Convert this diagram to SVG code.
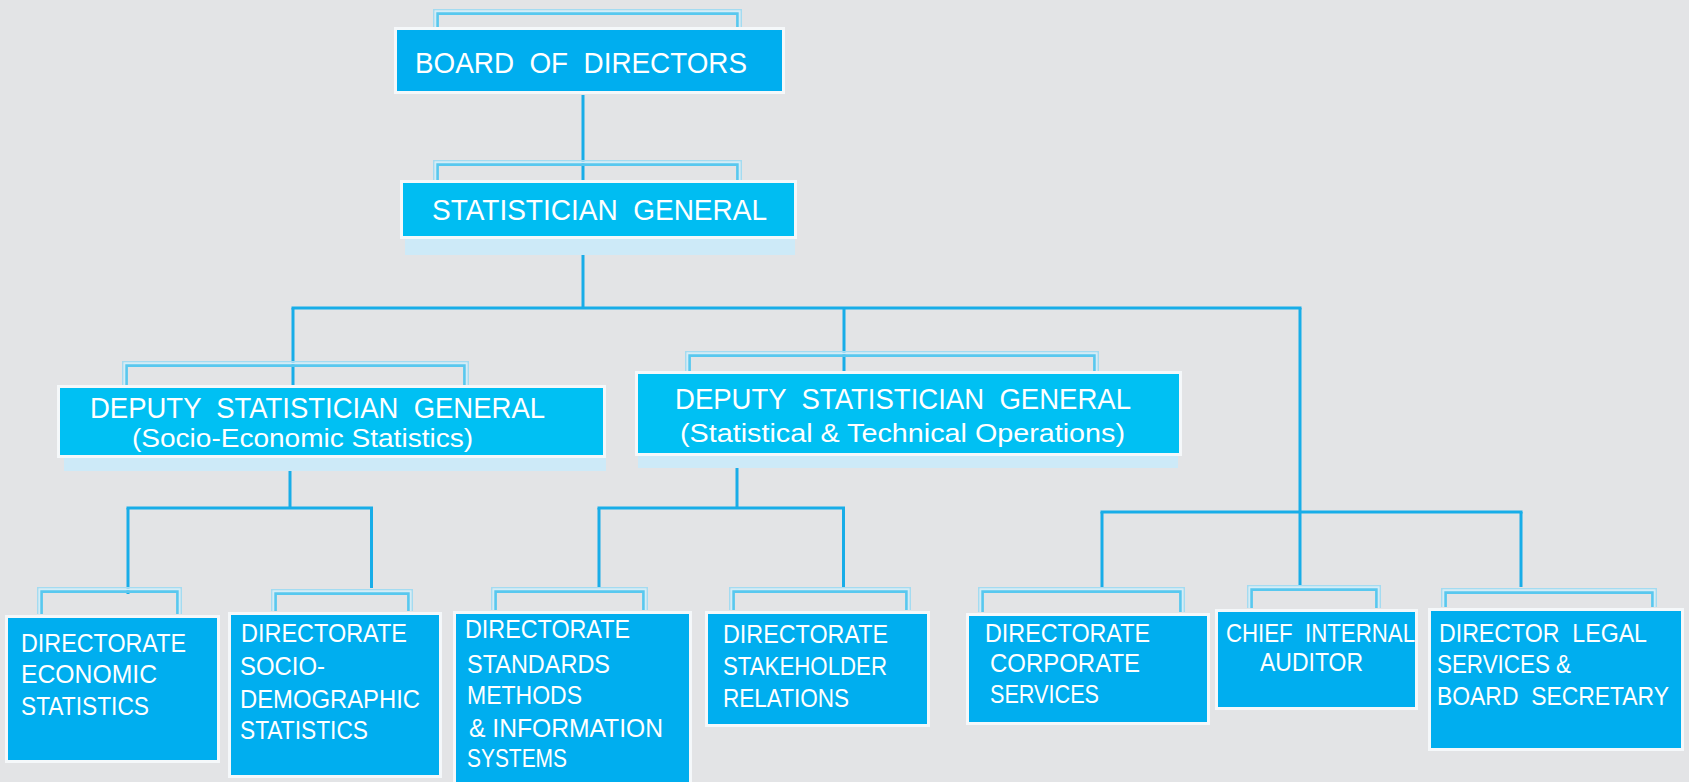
<svg xmlns="http://www.w3.org/2000/svg" width="1689" height="782" viewBox="0 0 1689 782">
  <style>
    .bg { fill: #e3e4e6; }
    .box { stroke: #f5f8fa; stroke-width: 3; }
    .top { fill: #00aeef; }
    .mid { fill: #00bdf2; }
    .dep { fill: #00c0f3; }
    .low { fill: #00aeef; }
    .strip { fill: #cdeaf8; }
    .br-out { fill: none; stroke: #a3dbf1; stroke-width: 1.6; }
    .br-gap { fill: none; stroke: #d3edf8; stroke-width: 2; }
    .br-in { fill: none; stroke: #58c8ef; stroke-width: 2.6; }
    .link { fill: none; stroke: #18ade8; stroke-width: 3; }
    text { fill: #ffffff; font-family: "Liberation Sans", Arial, sans-serif; white-space: pre; }
    .t1 { font-size: 30px; }
    .t2 { font-size: 29px; }
    .sub { font-size: 26px; }
    .t3 { font-size: 25px; }
  </style>

  <rect class="bg" x="0" y="0" width="1689" height="782"/>

  <!-- connectors -->
  <g id="connectors">
    <path class="link" d="M583 95 V181"/>
    <path class="link" d="M583 255 V308"/>
    <path class="link" d="M291.5 308 H1301.5"/>
    <path class="link" d="M293 308 V386"/>
    <path class="link" d="M844 308 V372"/>
    <path class="link" d="M1300 308 V585"/>
    <path class="link" d="M290 471 V508"/>
    <path class="link" d="M126.5 508 H373"/>
    <path class="link" d="M128 508 V594"/>
    <path class="link" d="M371.5 508 V588"/>
    <path class="link" d="M737 468 V508"/>
    <path class="link" d="M597.5 508 H845"/>
    <path class="link" d="M599 508 V587"/>
    <path class="link" d="M843.5 508 V588"/>
    <path class="link" d="M1100.5 512 H1522.5"/>
    <path class="link" d="M1102 512 V587"/>
    <path class="link" d="M1521 512 V587"/>
  </g>

  <!-- board of directors -->
  <g id="board">
    <path class="br-out" d="M433.8 27 V9.8 H741.2 V27"/>
    <path class="br-gap" d="M435.6 27 V11.6 H739.4 V27"/>
    <path class="br-in" d="M437.6 27 V13.6 H737.4 V27"/>
    <rect class="box top" x="395.5" y="28.5" width="388" height="64"/>
    <text class="t1" x="415" y="73" textLength="332" lengthAdjust="spacingAndGlyphs">BOARD  OF  DIRECTORS</text>
  </g>

  <!-- statistician general -->
  <g id="stat-general">
    <path class="br-out" d="M433.8 180 V160.8 H741.2 V180"/>
    <path class="br-gap" d="M435.6 180 V162.6 H739.4 V180"/>
    <path class="br-in" d="M437.6 180 V164.6 H737.4 V180"/>
    <rect class="strip" x="405" y="239" width="390" height="16"/>
    <rect class="box mid" x="401.5" y="181.5" width="394" height="56"/>
    <text class="t1" x="432" y="220" textLength="335" lengthAdjust="spacingAndGlyphs">STATISTICIAN  GENERAL</text>
  </g>

  <!-- deputy: socio-economic statistics -->
  <g id="dsg-socio-economic">
    <path class="br-out" d="M122.8 385 V361.8 H468.2 V385"/>
    <path class="br-gap" d="M124.6 385 V363.6 H466.4 V385"/>
    <path class="br-in" d="M126.6 385 V365.6 H464.4 V385"/>
    <rect class="strip" x="64" y="458" width="542" height="13"/>
    <rect class="box dep" x="58.5" y="386.5" width="546" height="70"/>
    <text class="t2" x="90" y="418" textLength="455" lengthAdjust="spacingAndGlyphs">DEPUTY  STATISTICIAN  GENERAL</text>
    <text class="sub" x="132" y="447" textLength="341" lengthAdjust="spacingAndGlyphs">(Socio-Economic Statistics)</text>
  </g>

  <!-- deputy: statistical and technical operations -->
  <g id="dsg-operations">
    <path class="br-out" d="M685.8 371 V351.8 H1098.2 V371"/>
    <path class="br-gap" d="M687.6 371 V353.6 H1096.4 V371"/>
    <path class="br-in" d="M689.6 371 V355.6 H1094.4 V371"/>
    <rect class="strip" x="638" y="456" width="540" height="12"/>
    <rect class="box dep" x="636.5" y="372.5" width="544" height="82"/>
    <text class="t2" x="675" y="409" textLength="456" lengthAdjust="spacingAndGlyphs">DEPUTY  STATISTICIAN  GENERAL</text>
    <text class="sub" x="680" y="442" textLength="445" lengthAdjust="spacingAndGlyphs">(Statistical &amp; Technical Operations)</text>
  </g>

  <!-- directorate economic statistics -->
  <g id="dir-economic">
    <path class="br-out" d="M37.8 614 V587.8 H181.2 V614"/>
    <path class="br-gap" d="M39.6 614 V589.6 H179.4 V614"/>
    <path class="br-in" d="M41.6 614 V591.6 H177.4 V614"/>
    <rect class="box low" x="6.5" y="616.5" width="212" height="145"/>
    <text class="t3" x="21" y="652" textLength="165" lengthAdjust="spacingAndGlyphs">DIRECTORATE</text>
    <text class="t3" x="21" y="683" textLength="136" lengthAdjust="spacingAndGlyphs">ECONOMIC</text>
    <text class="t3" x="21" y="715" textLength="128" lengthAdjust="spacingAndGlyphs">STATISTICS</text>
  </g>

  <!-- directorate socio-demographic statistics -->
  <g id="dir-socio-demographic">
    <path class="br-out" d="M271.8 611 V589.8 H412.2 V611"/>
    <path class="br-gap" d="M273.6 611 V591.6 H410.4 V611"/>
    <path class="br-in" d="M275.6 611 V593.6 H408.4 V611"/>
    <rect class="box low" x="229.5" y="613.5" width="211" height="163"/>
    <text class="t3" x="241" y="642" textLength="166" lengthAdjust="spacingAndGlyphs">DIRECTORATE</text>
    <text class="t3" x="240" y="675" textLength="85" lengthAdjust="spacingAndGlyphs">SOCIO-</text>
    <text class="t3" x="240" y="708" textLength="180" lengthAdjust="spacingAndGlyphs">DEMOGRAPHIC</text>
    <text class="t3" x="240" y="739" textLength="128" lengthAdjust="spacingAndGlyphs">STATISTICS</text>
  </g>

  <!-- directorate standards, methods and information systems -->
  <g id="dir-standards">
    <path class="br-out" d="M491.8 610 V587.8 H647.2 V610"/>
    <path class="br-gap" d="M493.6 610 V589.6 H645.4 V610"/>
    <path class="br-in" d="M495.6 610 V591.6 H643.4 V610"/>
    <rect class="box low" x="454.5" y="612.5" width="236" height="180"/>
    <text class="t3" x="465" y="638" textLength="165" lengthAdjust="spacingAndGlyphs">DIRECTORATE</text>
    <text class="t3" x="467" y="673" textLength="143" lengthAdjust="spacingAndGlyphs">STANDARDS</text>
    <text class="t3" x="467" y="704" textLength="115" lengthAdjust="spacingAndGlyphs">METHODS</text>
    <text class="t3" x="469" y="737" textLength="194" lengthAdjust="spacingAndGlyphs">&amp; INFORMATION</text>
    <text class="t3" x="467" y="767" textLength="100" lengthAdjust="spacingAndGlyphs">SYSTEMS</text>
  </g>

  <!-- directorate stakeholder relations -->
  <g id="dir-stakeholder">
    <path class="br-out" d="M729.8 610 V587.8 H910.2 V610"/>
    <path class="br-gap" d="M731.6 610 V589.6 H908.4 V610"/>
    <path class="br-in" d="M733.6 610 V591.6 H906.4 V610"/>
    <rect class="box low" x="706.5" y="612.5" width="222" height="113"/>
    <text class="t3" x="723" y="643" textLength="165" lengthAdjust="spacingAndGlyphs">DIRECTORATE</text>
    <text class="t3" x="723" y="675" textLength="164" lengthAdjust="spacingAndGlyphs">STAKEHOLDER</text>
    <text class="t3" x="723" y="707" textLength="126" lengthAdjust="spacingAndGlyphs">RELATIONS</text>
  </g>

  <!-- directorate corporate services -->
  <g id="dir-corporate">
    <path class="br-out" d="M978.8 612 V587.8 H1184.2 V612"/>
    <path class="br-gap" d="M980.6 612 V589.6 H1182.4 V612"/>
    <path class="br-in" d="M982.6 612 V591.6 H1180.4 V612"/>
    <rect class="box low" x="967.5" y="614.5" width="241" height="109"/>
    <text class="t3" x="985" y="642" textLength="165" lengthAdjust="spacingAndGlyphs">DIRECTORATE</text>
    <text class="t3" x="990" y="672" textLength="150" lengthAdjust="spacingAndGlyphs">CORPORATE</text>
    <text class="t3" x="990" y="703" textLength="109" lengthAdjust="spacingAndGlyphs">SERVICES</text>
  </g>

  <!-- chief internal auditor -->
  <g id="chief-auditor">
    <path class="br-out" d="M1247.8 608 V585.8 H1380.2 V608"/>
    <path class="br-gap" d="M1249.6 608 V587.6 H1378.4 V608"/>
    <path class="br-in" d="M1251.6 608 V589.6 H1376.4 V608"/>
    <rect class="box low" x="1216.5" y="610.5" width="200" height="98"/>
    <text class="t3" x="1226" y="642" textLength="189" lengthAdjust="spacingAndGlyphs">CHIEF  INTERNAL</text>
    <text class="t3" x="1260" y="671" textLength="103" lengthAdjust="spacingAndGlyphs">AUDITOR</text>
  </g>

  <!-- director legal services and board secretary -->
  <g id="legal-secretary">
    <path class="br-out" d="M1441.8 607 V588.8 H1656.2 V607"/>
    <path class="br-gap" d="M1443.6 607 V590.6 H1654.4 V607"/>
    <path class="br-in" d="M1445.6 607 V592.6 H1652.4 V607"/>
    <rect class="box low" x="1429.5" y="609.5" width="253" height="140"/>
    <text class="t3" x="1439" y="642" textLength="208" lengthAdjust="spacingAndGlyphs">DIRECTOR  LEGAL</text>
    <text class="t3" x="1437" y="673" textLength="134" lengthAdjust="spacingAndGlyphs">SERVICES &amp;</text>
    <text class="t3" x="1437" y="705" textLength="232" lengthAdjust="spacingAndGlyphs">BOARD  SECRETARY</text>
  </g>
</svg>
